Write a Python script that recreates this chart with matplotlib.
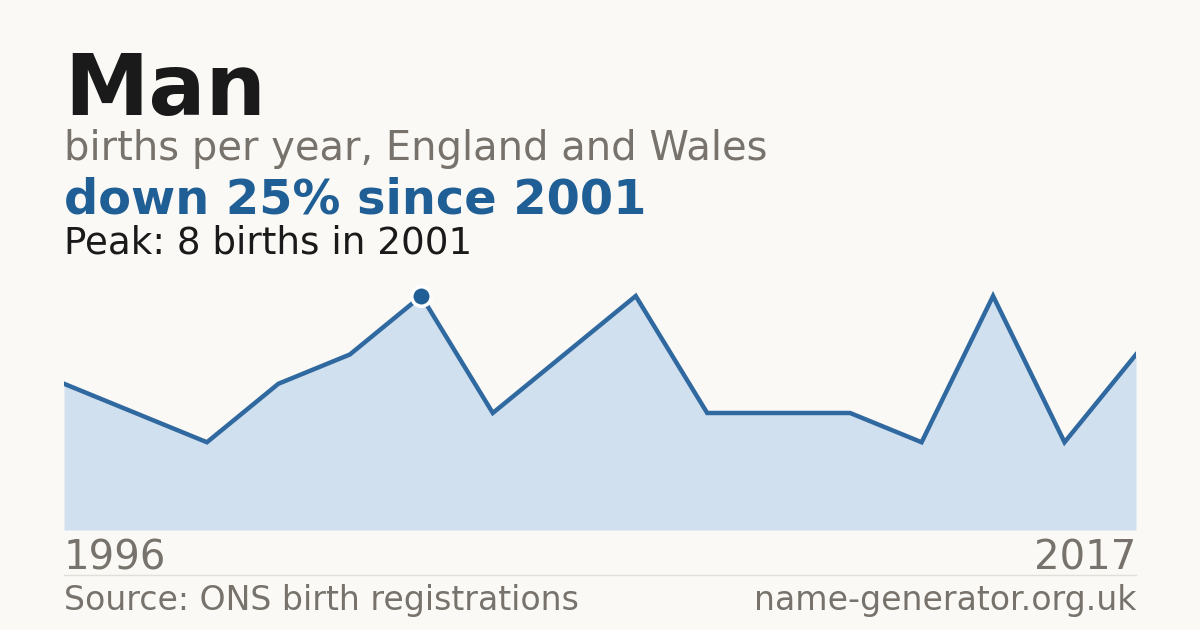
import matplotlib
matplotlib.use('Agg')
import matplotlib.pyplot as plt

# data: births per year for the name (only years with records)
years = [1996, 1997, 1998, 1999, 2000, 2001, 2002, 2004, 2005, 2007,
         2008, 2010, 2012, 2013, 2015, 2017]
births = [5, 4, 3, 5, 6, 8, 4, 6, 8, 4, 4, 4, 3, 8, 3, 6]

name = 'Man'
subtitle = 'births per year, England and Wales'
change_text = 'down 25% since 2001'
peak_text = 'Peak: 8 births in 2001'
source_text = 'Source: ONS birth registrations'
site_text = 'name-generator.org.uk'

W, H = 1200, 630
bg = '#faf9f5'
blue = '#1f5f95'
grey = '#77736c'

fig = plt.figure(figsize=(W / 100, H / 100), dpi=100, facecolor=bg)


def fx(px):
    return px / W


def fy(py):
    return 1 - py / H


# texts at the top
fig.text(fx(64), fy(115), name, fontsize=61, fontweight='bold', color='#1a1a1a', va='baseline')
fig.text(fx(64), fy(160), subtitle, fontsize=28.8, color=grey, va='baseline')
fig.text(fx(64), fy(214), change_text, fontsize=34.5, fontweight='bold', color=blue, va='baseline')
fig.text(fx(64), fy(254), peak_text, fontsize=26.8, color='#1a1a1a', va='baseline')

# plot area
top, bottom = 270, 530
ax = fig.add_axes([fx(64), fy(bottom), fx(1136 - 64), (bottom - top) / H])
ax.set_facecolor(bg)
idx = list(range(len(years)))
ax.fill_between(idx, births, 0, color='#d0e0ef', lw=0)
ax.plot(idx, births, color='#3069a0', lw=3.2, solid_joinstyle='miter')
peak_i = births.index(max(births))
ax.plot(peak_i, births[peak_i], 'o', color=blue, markersize=14,
        markeredgecolor='white', markeredgewidth=2.5, clip_on=False, zorder=5)
ax.set_xlim(0, len(years) - 1)
ax.set_ylim(0, max(births) * (bottom - top) / (bottom - 296))
ax.axis('off')

# axis end labels
fig.text(fx(64), fy(570), str(years[0]), fontsize=29, color=grey, va='baseline')
fig.text(fx(1136), fy(570), str(years[-1]), fontsize=29, color=grey, va='baseline', ha='right')
fig.add_artist(plt.Line2D([fx(64), fx(1136)], [fy(574.5), fy(574.5)], color='#e2dfd8', lw=1))

# footer
fig.text(fx(64), fy(610), source_text, fontsize=23.9, color=grey, va='baseline')
fig.text(fx(1136), fy(610), site_text, fontsize=23.9, color=grey, va='baseline', ha='right')

fig.savefig('out.png', dpi=100, facecolor=bg)
